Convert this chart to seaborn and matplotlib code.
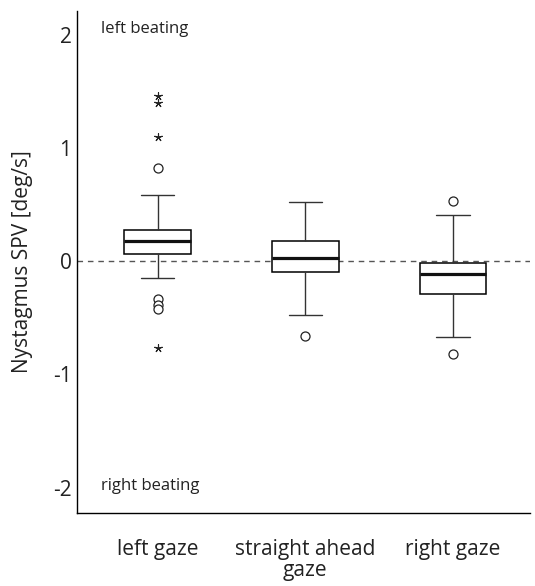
import matplotlib
matplotlib.use("Agg")
import matplotlib.pyplot as plt
import seaborn as sns
import pandas as pd

# ---- data ----
categories = ["left gaze", "straight ahead\ngaze", "right gaze"]
whisker_low = [-0.148, -0.477, -0.671]
q1 = [0.064, -0.100, -0.294]
median = [0.174, 0.029, -0.117]
q3 = [0.277, 0.174, -0.012]
whisker_high = [0.587, 0.524, 0.406]

# outliers (circles: > 1.5 IQR, stars: > 3 IQR)
outlier_left = [0.827, -0.330, -0.383, -0.427]
outlier_straight = [-0.662]
outlier_right = [0.532, -0.821]
extreme_left = [1.457, 1.395, 1.100, -0.766]
extreme_straight = []
extreme_right = []

yticks = [-2, -1, 0, 1, 2]

# ---- build tables ----
rows = []
for i, c in enumerate(categories):
    for v in (whisker_low[i], q1[i], median[i], q3[i], whisker_high[i]):
        rows.append({"gaze": c, "spv": v})
box_df = pd.DataFrame(rows)

out_rows = []
for c, vals in zip(categories, [outlier_left, outlier_straight, outlier_right]):
    for v in vals:
        out_rows.append({"gaze": c, "spv": v})
out_df = pd.DataFrame(out_rows)

ext_rows = []
for c, vals in zip(categories, [extreme_left, extreme_straight, extreme_right]):
    for v in vals:
        ext_rows.append({"gaze": c, "spv": v})
ext_df = pd.DataFrame(ext_rows)

# ---- plot ----
sns.set_theme(style="white")
plt.rcParams["font.family"] = ["Open Sans", "DejaVu Sans"]

fig = plt.figure(figsize=(5.35, 5.86), dpi=100)
ax = fig.add_axes([77 / 535, 1 - 513 / 586, (530 - 77) / 535, (513 - 11) / 586])

ax.axhline(0, color="#555555", lw=1.0, ls=(0, (4, 3.5)), zorder=0.5)

sns.boxplot(data=box_df, x="gaze", y="spv", order=categories, ax=ax,
            whis=(0, 100), showfliers=False, width=0.45,
            color="white", linecolor="black", linewidth=1.1,
            medianprops=dict(linewidth=2.3, color="#111111"),
            whiskerprops=dict(color="#333333", linewidth=1.0),
            capprops=dict(color="#333333", linewidth=1.0))

sns.stripplot(data=out_df, x="gaze", y="spv", order=categories, ax=ax,
              jitter=False, marker="o", size=6.5, color="white",
              edgecolor="#222222", linewidth=0.9, zorder=3)
sns.stripplot(data=ext_df, x="gaze", y="spv", order=categories, ax=ax,
              jitter=False, marker=(5, 2, 0), size=5.5, color="#222222",
              linewidth=0.8, zorder=3)

ax.set_xlim(-0.545, 2.521)
ax.set_ylim(-2.225, 2.21)
ax.set_yticks(yticks)
ax.set_yticklabels([str(t) for t in yticks])

for s in ["top", "right"]:
    ax.spines[s].set_visible(False)
for s in ["left", "bottom"]:
    ax.spines[s].set_color("black")
    ax.spines[s].set_linewidth(1.0)

ax.tick_params(axis="both", length=0, labelsize=15, colors="#222222")
for lbl in ax.get_xticklabels():
    lbl.set_linespacing(1.0)
ax.tick_params(axis="x", pad=19)
ax.tick_params(axis="y", pad=4)
ax.set_xlabel("")
ax.set_ylabel("Nystagmus SPV [deg/s]", fontsize=15, color="#222222", labelpad=14)

ax.text(0.053, 2.05, "left beating", transform=ax.get_yaxis_transform(),
        fontsize=12, va="center", ha="left", color="#222222")
ax.text(0.053, -1.987, "right beating", transform=ax.get_yaxis_transform(),
        fontsize=12, va="center", ha="left", color="#222222")

fig.savefig("out.png", dpi=100)
